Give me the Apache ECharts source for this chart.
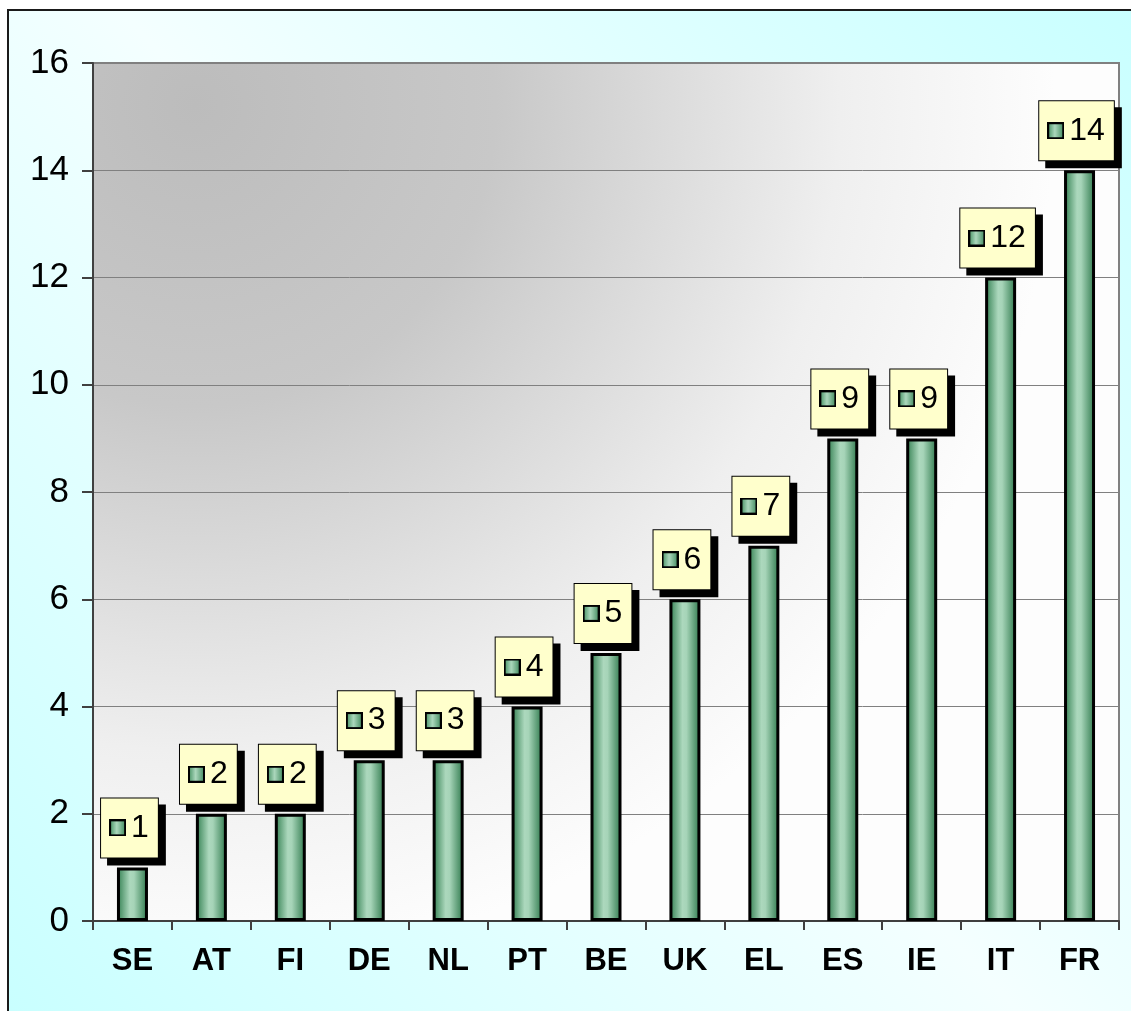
<!DOCTYPE html>
<html>
<head>
<meta charset="utf-8">
<script src="https://cdn.jsdelivr.net/npm/echarts@6/dist/echarts.min.js"></script>
<style>
  html, body { margin: 0; padding: 0; background: #fff; }
  #chart { width: 1131px; height: 1011px; }
</style>
</head>
<body>
<div id="chart"></div>
<script>
// country codes and counts
var countries = [ 'SE', 'AT', 'FI', 'DE', 'NL', 'PT', 'BE', 'UK', 'EL', 'ES', 'IE', 'IT', 'FR' ];
var counts = [ 1, 2, 2, 3, 3, 4, 5, 6, 7, 9, 9, 12, 14 ];
var yTicks = [ 0, 2, 4, 6, 8, 10, 12, 14, 16 ];

var FONT = 'Liberation Sans, Arial, sans-serif';

// small green square used as legend key inside each label
function keyImage() {
  var c = document.createElement( 'canvas' );
  c.width = 17; c.height = 17;
  var ctx = c.getContext( '2d' );
  var g = ctx.createLinearGradient( 0, 0, 17, 0 );
  g.addColorStop( 0, '#3e8c5c' );
  g.addColorStop( 0.45, '#acd8bd' );
  g.addColorStop( 1, '#3a8558' );
  ctx.fillStyle = g;
  ctx.fillRect( 0, 0, 17, 17 );
  ctx.strokeStyle = '#000';
  ctx.lineWidth = 2;
  ctx.strokeRect( 1, 1, 15, 15 );
  return c.toDataURL();
}

var barFill = new echarts.graphic.LinearGradient( 0, 0, 1, 0, [
  { offset: 0, color: '#2f7d4e' },
  { offset: 0.42, color: '#acd8bd' },
  { offset: 0.55, color: '#a6d4b8' },
  { offset: 1, color: '#2c774a' }
] );

var chart = echarts.init( document.getElementById( 'chart' ) );
chart.setOption( {
  animation: false,
  backgroundColor: '#fff',
  graphic: [ {
    type: 'rect',
    z: -10,
    shape: { x: 8, y: 10, width: 1140, height: 1020 },
    style: {
      fill: new echarts.graphic.LinearGradient( 0, 1, 1, 0, [
        { offset: 0, color: '#c8ffff' },
        { offset: 0.5, color: '#f4ffff' },
        { offset: 1, color: '#c8ffff' }
      ] ),
      stroke: '#1a1a1a',
      lineWidth: 2
    }
  } ],
  grid: {
    left: 93, top: 63, right: 12, bottom: 90,
    show: true,
    borderColor: '#808080',
    borderWidth: 2,
    backgroundColor: new echarts.graphic.RadialGradient( 0.1, 0.05, 1.0, [
      { offset: 0, color: '#bcbcbc' },
      { offset: 0.35, color: '#c8c8c8' },
      { offset: 0.75, color: '#efefef' },
      { offset: 1, color: '#fdfdfd' }
    ] )
  },
  xAxis: {
    type: 'category',
    data: countries,
    boundaryGap: true,
    axisLine: { lineStyle: { color: '#404040', width: 2 } },
    axisTick: { show: true, alignWithLabel: false, length: 9, lineStyle: { color: '#404040', width: 2 } },
    axisLabel: { fontFamily: FONT, fontSize: 31, fontWeight: 'bold', color: '#000', margin: 25 }
  },
  yAxis: {
    type: 'value',
    min: yTicks[ 0 ],
    max: yTicks[ yTicks.length - 1 ],
    interval: yTicks[ 1 ] - yTicks[ 0 ],
    axisLine: { show: true, lineStyle: { color: '#404040', width: 2 } },
    axisTick: { show: true, length: 11, lineStyle: { color: '#404040', width: 2 } },
    axisLabel: { fontFamily: FONT, fontSize: 35, color: '#000', margin: 24 },
    splitLine: { lineStyle: { color: '#808080', width: 1 } }
  },
  series: [ {
    type: 'bar',
    data: counts,
    barWidth: 31,
    itemStyle: { color: barFill, borderColor: '#000', borderWidth: 3 },
    label: {
      show: true,
      position: 'top',
      distance: 10,
      offset: [ -3, 0 ],
      formatter: function( p ) { return '{k|}{v|' + p.value + '}'; },
      backgroundColor: '#ffffcc',
      borderColor: '#000',
      borderWidth: 1,
      padding: [ 13, 9, 13, 8 ],
      shadowColor: '#000',
      shadowBlur: 0,
      shadowOffsetX: 7,
      shadowOffsetY: 7,
      rich: {
        k: { width: 17, height: 17, backgroundColor: { image: keyImage() } },
        v: { fontFamily: FONT, fontSize: 32, color: '#000', lineHeight: 33, padding: [ 0, 0, 0, 5 ] }
      }
    }
  } ]
} );
</script>
</body>
</html>
